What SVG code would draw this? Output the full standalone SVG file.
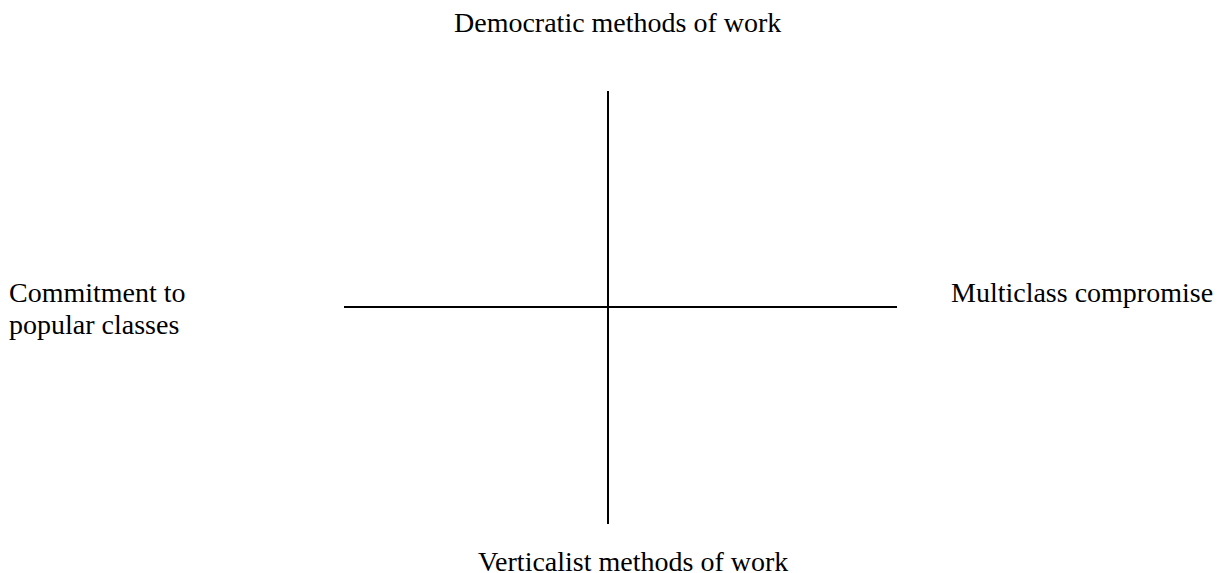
<svg xmlns="http://www.w3.org/2000/svg" width="1232" height="573" viewBox="0 0 1232 573">
<style>
.t{font-family:"Liberation Serif","Times New Roman",serif;font-size:28px;fill:#000}
.ax{stroke:#000;stroke-width:2;fill:none}
</style>
<rect width="1232" height="573" fill="#fff"/>
<g id="connectors">
<line class="ax" x1="608" y1="91" x2="608" y2="524"/>
<line class="ax" x1="344" y1="307" x2="897" y2="307"/>
</g>
<g id="top"><text class="t" x="454" y="32">Democratic methods of work</text></g>
<g id="left"><text class="t" x="9" y="302">Commitment to</text><text class="t" x="9" y="334">popular classes</text></g>
<g id="right"><text class="t" x="951" y="302">Multiclass compromise</text></g>
<g id="bottom"><text class="t" x="478" y="571">Verticalist methods of work</text></g>
</svg>
